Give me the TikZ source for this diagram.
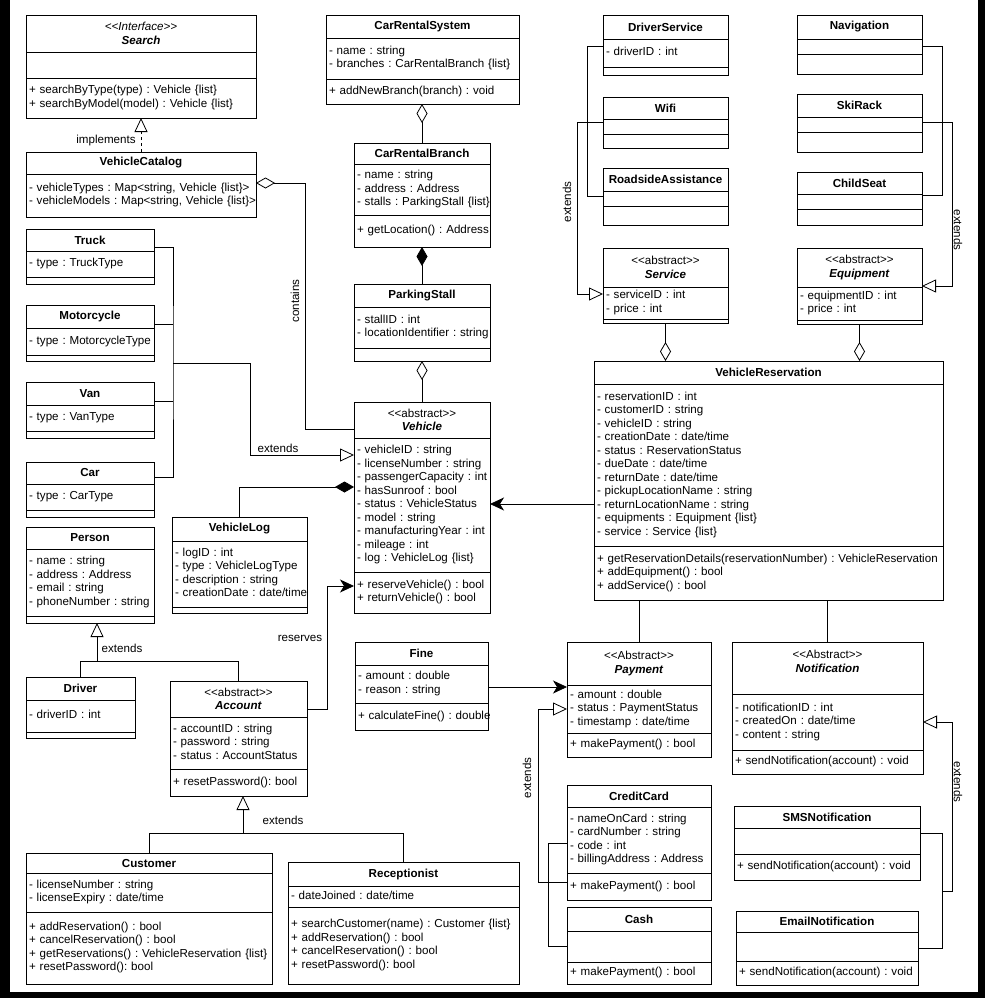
\documentclass[tikz,border=0pt]{standalone}
\usepackage{fontspec}
\setmainfont{Liberation Sans}
\usetikzlibrary{arrows.meta,positioning}

\newcommand{\umlfont}{\fontsize{11.6}{13.5}\selectfont\frenchspacing}
\newcommand{\stereo}[1]{<\kern0pt<#1>\kern0pt>}
\newcommand{\umllines}[1]{\if\relax\detokenize{#1}\relax\else\begin{tabular}{@{}l@{}}#1\end{tabular}\fi}
% class box: name, position, width, heights of the three parts, title, attributes, methods
\newcommand{\umlclass}[9]{%
  \node[clstitle, minimum width=#3pt, minimum height=#4pt, anchor=north west] (#1) at (#2) {#7};
  \node[clspart, text width=#3pt-6pt, minimum height=#5pt, below=0pt of #1] (#1-a) {\umllines{#8}};
  \ifdim#6pt>0pt
  \node[clspart, text width=#3pt-6pt, minimum height=#6pt, below=0pt of #1-a] (#1-m) {\umllines{#9}};
  \fi}

\tikzset{
  clstitle/.style={draw, inner sep=0pt, outer sep=0pt, align=center, font=\umlfont},
  clspart/.style={draw, inner xsep=3pt, inner ysep=0pt, outer sep=0pt, align=left, font=\umlfont},
  lbl/.style={inner sep=1pt, font=\umlfont},
  gen/.style={-{Triangle[open,length=14pt,width=13pt]}},
  real/.style={gen, dash pattern=on 3pt off 3pt},
  aggr/.style={-{Diamond[open,length=19pt,width=11pt]}},
  comp/.style={-{Diamond[length=19pt,width=11pt]}},
  assoc/.style={-{Stealth[length=14pt,width=13pt,inset=4pt]}}
}

\begin{document}
\begin{tikzpicture}[x=1pt,y=-1pt,line width=0.8pt]
\useasboundingbox (0,0) rectangle (985,998);
\fill[black] (0,0) rectangle (985,998);
\fill[white] (10,0) rectangle (978,992);

% left column
\umlclass{search}{26,15}{230}{37}{26}{40}{\textit{\stereo{Interface}}\\\textbf{\textit{Search}}}{}{+ searchByType(type) : Vehicle \{list\}\\+ searchByModel(model) : Vehicle \{list\}}
\umlclass{catalog}{26,152}{230}{22}{43}{0}{\textbf{VehicleCatalog}}{- vehicleTypes : Map<string, Vehicle \{list\}>\\- vehicleModels : Map<string, Vehicle \{list\}>}{}
\umlclass{truck}{26,229}{128}{22}{26}{7}{\textbf{Truck}}{- type : TruckType}{}
\umlclass{moto}{26,305}{128}{23}{27}{6}{\textbf{Motorcycle}}{- type : MotorcycleType}{}
\umlclass{van}{26,382}{128}{23}{26}{7}{\textbf{Van}}{- type : VanType}{}
\umlclass{car}{26,462}{128}{22}{26}{7}{\textbf{Car}}{- type : CarType}{}
\umlclass{person}{26,527}{128}{22}{67}{7}{\textbf{Person}}{- name : string\\- address : Address\\- email : string\\- phoneNumber : string}{}
\umlclass{driver}{26,677}{109}{23}{32}{6}{\textbf{Driver}}{- driverID : int}{}
\umlclass{acct}{170,681}{137}{36}{52}{27}{\stereo{abstract}\\\textbf{\textit{Account}}}{- accountID : string\\- password : string\\- status : AccountStatus}{+ resetPassword(): bool}
\umlclass{cust}{26,853}{246}{20}{39}{72}{\textbf{Customer}}{- licenseNumber : string\\- licenseExpiry : date/time}{+ addReservation() : bool\\+ cancelReservation() : bool\\+ getReservations() : VehicleReservation \{list\}\\+ resetPassword(): bool}
\umlclass{recp}{288,862}{231}{24}{21}{77}{\textbf{Receptionist}}{- dateJoined : date/time}{+ searchCustomer(name) : Customer \{list\}\\+ addReservation() : bool\\+ cancelReservation() : bool\\+ resetPassword(): bool}
\umlclass{vlog}{172,517}{135}{24}{66}{6}{\textbf{VehicleLog}}{- logID : int\\- type : VehicleLogType\\- description : string\\- creationDate : date/time}{}

% middle column
\umlclass{crs}{326,15}{193}{23}{41}{25}{\textbf{CarRentalSystem}}{- name : string\\- branches : CarRentalBranch \{list\}}{+ addNewBranch(branch) : void}
\umlclass{crb}{354,143}{136}{21}{51}{32}{\textbf{CarRentalBranch}}{- name : string\\- address : Address\\- stalls : ParkingStall \{list\}}{+ getLocation() : Address}
\umlclass{stall}{354,284}{136}{23}{41}{13}{\textbf{ParkingStall}}{- stallID : int\\- locationIdentifier : string}{}
\umlclass{veh}{354,402}{136}{36}{134}{41}{\stereo{abstract}\\\textbf{\textit{Vehicle}}}{- vehicleID : string\\- licenseNumber : string\\- passengerCapacity : int\\- hasSunroof : bool\\- status : VehicleStatus\\- model : string\\- manufacturingYear : int\\- mileage : int\\- log : VehicleLog \{list\}}{+ reserveVehicle() : bool\\+ returnVehicle() : bool}
\umlclass{fine}{355,642}{133}{23}{38}{27}{\textbf{Fine}}{- amount : double\\- reason : string}{+ calculateFine() : double}

% right columns
\umlclass{dsvc}{603,15}{125}{24}{28}{8}{\textbf{DriverService}}{- driverID : int}{}
\umlclass{wifi}{603,97}{125}{22}{15}{14}{\textbf{Wifi}}{}{}
\umlclass{road}{603,168}{125}{23}{15}{19}{\textbf{RoadsideAssistance}}{}{}
\umlclass{svc}{603,248}{125}{39}{32}{4}{\stereo{abstract}\\\textbf{\textit{Service}}}{- serviceID : int\\- price : int}{}
\umlclass{nav}{797,15}{125}{24}{15}{20}{\textbf{Navigation}}{}{}
\umlclass{ski}{797,94}{125}{23}{15}{20}{\textbf{SkiRack}}{}{}
\umlclass{child}{797,172}{125}{22}{15}{16}{\textbf{ChildSeat}}{}{}
\umlclass{equip}{797,248}{125}{39}{33}{4}{\stereo{abstract}\\\textbf{\textit{Equipment}}}{- equipmentID : int\\- price : int}{}
\umlclass{vr}{594,361}{349}{23}{162}{54}{\textbf{VehicleReservation}}{- reservationID : int\\- customerID : string\\- vehicleID : string\\- creationDate : date/time\\- status : ReservationStatus\\- dueDate : date/time\\- returnDate : date/time\\- pickupLocationName : string\\- returnLocationName : string\\- equipments : Equipment \{list\}\\- service : Service \{list\}}{+ getReservationDetails(reservationNumber) : VehicleReservation\\+ addEquipment() : bool\\+ addService() : bool}
\umlclass{pay}{567,642}{144}{43}{48}{24}{\stereo{Abstract}\\\textbf{\textit{Payment}}}{- amount : double\\- status : PaymentStatus\\- timestamp : date/time}{+ makePayment() : bool}
\umlclass{cc}{567,785}{144}{22}{66}{27}{\textbf{CreditCard}}{- nameOnCard : string\\- cardNumber : string\\- code : int\\- billingAddress : Address}{+ makePayment() : bool}
\umlclass{cash}{567,907}{144}{24}{31}{22}{\textbf{Cash}}{}{+ makePayment() : bool}
\umlclass{notif}{732,642}{191}{52}{56}{24}{\stereo{Abstract}\\\textbf{\textit{Notification}}\\\mbox{}}{- notificationID : int\\- createdOn : date/time\\- content : string}{+ sendNotification(account) : void}
\umlclass{sms}{734,806}{186}{22}{26}{26}{\textbf{SMSNotification}}{}{+ sendNotification(account) : void}
\umlclass{email}{736,911}{182}{21}{29}{24}{\textbf{EmailNotification}}{}{+ sendNotification(account) : void}

% implements, contains
\draw[real] (catalog.north) -- (catalog.north |- search-m.south);
\node[lbl] (implLbl) at (106,140) {implements};
\draw[aggr] ([yshift=-9pt]veh.west) -- ++(-49,0) |- ([yshift=12.5pt]catalog-a.east);
\node[lbl, rotate=90] (contLbl) at (295,301) {contains};

% vehicle types
\coordinate (vbus) at (173,363);
\draw ([yshift=-7pt]truck.east) -| (vbus) |- ([yshift=-4pt]car.east);
\draw ([yshift=-7.5pt]moto.east) -- ++(19,0);
\draw ([yshift=-7.5pt]van.east) -- ++(19,0);
\draw[gen] (vbus) -- ++(77,0) |- ([yshift=50pt]veh-a.west);
\node[lbl] (extLbl1) at (278,448) {extends};

% branch chain
\draw[aggr] (crb.north) -- (crb.north |- crs-m.south);
\draw[comp] (stall.north) -- (stall.north |- crb-m.south);
\draw[aggr] (veh.north) -- (veh.north |- stall-m.south);
\draw[comp] (vlog.north) |- ([yshift=18pt]veh-a.west);

% reservation and account
\coordinate (vrv) at ([yshift=-39pt]vr-a.west);
\draw[assoc] (vrv) -- (vrv -| veh-a.east);
\draw[assoc] ([yshift=-10pt]acct.east) -- ++(20,0) |- ([yshift=6.5pt]veh-m.west);
\node[lbl] (resLbl) at (300,638) {reserves};

% persons
\coordinate (pj) at (97,661);
\draw[gen] (pj) -- (pj |- person-m.south);
\draw (driver.north) -- ++(0,-16) -| (acct.north);
\node[lbl] (extLbl2) at (122,648) {extends};
\coordinate (aj) at (243,833);
\draw[gen] (aj) -- (aj |- acct-m.south);
\draw (cust.north) -- ++(0,-20) -| (recp.north);
\node[lbl] (extLbl3) at (283,820) {extends};

% services, equipment
\draw ([yshift=7pt]dsvc-a.west) -- ++(-16,0) |- ([yshift=2.5pt]road-a.west);
\draw[gen] ([yshift=4.5pt]wifi-a.west) -- ++(-26,0) |- ([yshift=9pt]svc-a.west);
\node[lbl, rotate=90] (extLbl4) at (567,202) {extends};
\draw (nav-a.east) -- ++(20,0) |- ([yshift=6.5pt]child-a.east);
\draw[gen] ([yshift=2.5pt]ski-a.east) -- ++(30,0) |- ([yshift=-18.5pt]equip.east);
\node[lbl, rotate=-90] (extLbl5) at (958,230) {extends};
\draw[aggr] (svc-m.south) -- (svc-m.south |- vr.north);
\draw[aggr] (equip-m.south) -- (equip-m.south |- vr.north);
\draw (pay.north) -- (pay.north |- vr-m.south);
\draw (notif.north) -- (notif.north |- vr-m.south);

% payments
\coordinate (fp) at ([yshift=-3pt]fine-a.east);
\draw[assoc] (fp) -- (fp -| pay-a.west);
\draw[gen] ([yshift=4.5pt]cc-m.west) -- ++(-29,0) |- (pay-a.west);
\draw (cash-a.west) -- ++(-19,0) |- ([yshift=-3pt]cc-a.west);
\node[lbl, rotate=90] (extLbl6) at (527,778) {extends};

% notifications
\draw ([yshift=8pt]sms-a.east) -- ++(22,0) |- ([yshift=-1.5pt]email-a.east);
\coordinate (nj) at (942,891);
\draw[gen] (nj) -- ++(10,0) |- (notif-a.east);
\node[lbl, rotate=-90] (extLbl7) at (958,782) {extends};
\end{tikzpicture}
\end{document}
